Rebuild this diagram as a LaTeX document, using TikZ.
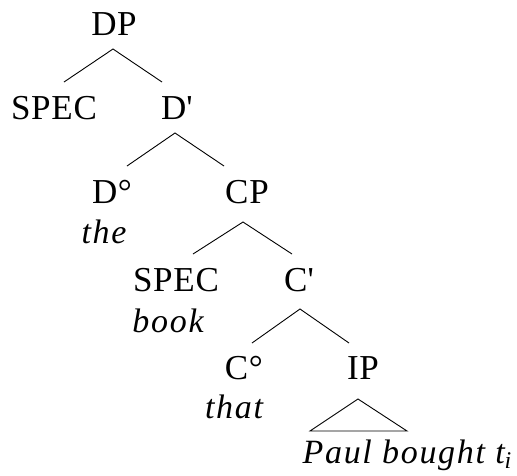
\documentclass[tikz,border=0pt]{standalone}
\usepackage{fontspec}
\setmainfont{Liberation Serif}
\tikzset{
  cat/.style={font=\fontsize{35}{38}\selectfont\addfontfeatures{LetterSpace=2}, anchor=base, inner sep=0pt},
  word/.style={font=\fontsize{34}{37}\selectfont\itshape\addfontfeatures{LetterSpace=5}, anchor=base, inner sep=0pt},
  branch/.style={line width=0.9pt}
}
\begin{document}
\begin{tikzpicture}[x=1pt,y=-1pt]
\useasboundingbox (0,0) rectangle (517,475);
\node[cat] (dp) at (114,35) {DP};
\node[cat] (spec1) at (54,119) {SPEC};
\node[cat] (dbar) at (177,119) {D\textquotesingle};
\node[cat] (dhead) at (112,203) {D°};
\node[word] (the) at (104,243) {the};
\node[cat] (cp) at (247,203) {CP};
\node[cat] (spec2) at (176,291) {SPEC};
\node[word] (book) at (168,332) {book};
\node[cat] (cbar) at (299,291) {C\textquotesingle};
\node[cat] (chead) at (244,379) {C°};
\node[word] (that) at (234,418) {that};
\node[cat] (ip) at (363,379) {IP};
\node[word] (paul) at (407,463) {Paul bought t{\fontsize{24}{24}\selectfont\raisebox{-5pt}{i}}};
\draw[branch] ([shift={(10,-37)}]spec1.base) -- ([shift={(-1,14)}]dp.base) -- ([shift={(-15,-37)}]dbar.base);
\draw[branch] ([shift={(15,-37)}]dhead.base) -- ([shift={(-2,14)}]dbar.base) -- ([shift={(-23,-37)}]cp.base);
\draw[branch] ([shift={(17,-37)}]spec2.base) -- ([shift={(-4,19)}]cp.base) -- ([shift={(-7,-37)}]cbar.base);
\draw[branch] ([shift={(8,-36)}]chead.base) -- ([shift={(1,18)}]cbar.base) -- ([shift={(-14,-36)}]ip.base);
\draw[branch] ([shift={(-5,20)}]ip.base) -- ([shift={(-97,-32)}]paul.base) -- ([shift={(0,-32)}]paul.base) -- cycle;
\end{tikzpicture}
\end{document}
